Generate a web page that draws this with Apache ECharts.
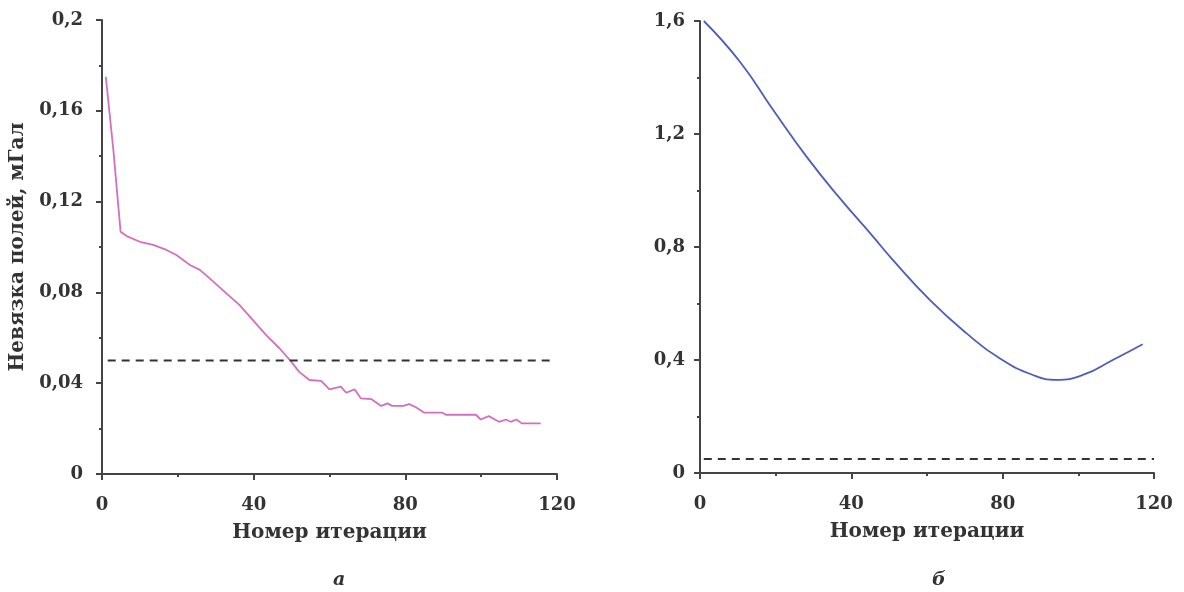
<!DOCTYPE html>
<html>
<head>
<meta charset="utf-8">
<script src="https://cdn.jsdelivr.net/npm/echarts@6/dist/echarts.min.js"></script>
<style>
  html, body { margin: 0; padding: 0; background: #fff; }
  #chart { width: 1184px; height: 592px; }
</style>
</head>
<body>
<div id="chart"></div>
<script>
// left panel (a): misfit vs iteration
var leftIter = [1, 3, 4.9, 6.5, 10, 13.5, 17, 19.6, 23.2, 25.8, 28.4, 32.8, 36.3, 39.8, 43.3, 46.8, 49.9, 52, 54.7, 57.8, 60, 63, 64.4, 66.6, 68.3, 71, 73.6, 75.3, 76.5, 79.5, 81, 82.8, 85, 89.8, 90.7, 98.6, 99.9, 102, 104.7, 106.5, 107.8, 109.3, 110.7, 115.7];
var leftVal = [0.175, 0.1427, 0.1067, 0.1048, 0.1023, 0.1009, 0.0987, 0.0965, 0.0921, 0.0899, 0.0862, 0.0796, 0.0744, 0.0678, 0.0612, 0.0554, 0.0495, 0.045, 0.0414, 0.041, 0.0373, 0.0385, 0.0358, 0.0373, 0.0333, 0.033, 0.030, 0.0311, 0.030, 0.030, 0.0308, 0.0294, 0.027, 0.027, 0.0261, 0.0261, 0.024, 0.0255, 0.023, 0.024, 0.023, 0.024, 0.0223, 0.0223];

// right panel (б)
var rightIter = [1, 10.6, 19.4, 28.2, 37, 45.8, 50.6, 60.8, 70.4, 79.2, 88, 94.2, 101.2, 109.1, 117];
var rightVal = [1.6, 1.455, 1.284, 1.119, 0.972, 0.836, 0.76, 0.612, 0.495, 0.406, 0.347, 0.330, 0.347, 0.400, 0.456];

var threshold = 0.05;

function pairs(xs, ys) {
    return xs.map(function (x, i) { return [x, ys[i]]; });
}

var font = 'DejaVu Serif';
var axisColor = '#444';
var textColor = '#333';

function makeX(idx) {
    return {
        type: 'value', gridIndex: idx, min: 0, max: 120, interval: 40,
        name: 'Номер итерации', nameLocation: 'middle', nameGap: 49,
        nameTextStyle: { fontFamily: font, fontWeight: 'bold', fontSize: 20, color: textColor },
        axisLine: { show: true, onZero: false, lineStyle: { color: axisColor, width: 2 } },
        axisTick: { show: true, length: 6, lineStyle: { color: axisColor, width: 2 } },
        minorTick: { show: true, splitNumber: 2, length: 3, lineStyle: { color: axisColor, width: 2 } },
        splitLine: { show: false },
        axisLabel: { margin: 22, fontFamily: font, fontWeight: 'bold', fontSize: 18, color: textColor }
    };
}

function makeY(idx, max, interval, name, margin) {
    return {
        type: 'value', gridIndex: idx, min: 0, max: max, interval: interval,
        name: name, nameLocation: 'middle', nameGap: 74,
        nameTextStyle: { fontFamily: font, fontWeight: 'bold', fontSize: 20, color: textColor },
        axisLine: { show: true, onZero: false, lineStyle: { color: axisColor, width: 2 } },
        axisTick: { show: true, length: 6, lineStyle: { color: axisColor, width: 2 } },
        minorTick: { show: true, splitNumber: 2, length: 3, lineStyle: { color: axisColor, width: 2 } },
        splitLine: { show: false },
        axisLabel: {
            margin: margin, fontFamily: font, fontWeight: 'bold', fontSize: 18, color: textColor,
            formatter: function (v) { return String(+v.toFixed(3)).replace('.', ','); }
        }
    };
}

var dashStyle = { color: '#333', width: 2, type: [8, 6] };
var subStyle = { fontFamily: font, fontStyle: 'italic', fontWeight: 'bold', fontSize: 19, color: textColor };

var chart = echarts.init(document.getElementById('chart'));
var option = {
    backgroundColor: '#fff',
    animation: false,
    title: [
        { text: 'а', left: 328, top: 566, textStyle: subStyle },
        { text: 'б', left: 927, top: 566, textStyle: subStyle }
    ],
    grid: [
        { left: 102, right: 627, top: 20, bottom: 118 },
        { left: 700, right: 30, top: 21, bottom: 119 }
    ],
    xAxis: [makeX(0), makeX(1)],
    yAxis: [makeY(0, 0.2, 0.04, 'Невязка полей, мГал', 19), makeY(1, 1.6, 0.4, '', 15)],
    series: [
        {
            type: 'line', xAxisIndex: 0, yAxisIndex: 0, showSymbol: false,
            data: pairs(leftIter, leftVal),
            lineStyle: { color: '#d46fbf', width: 1.8 }
        },
        {
            type: 'line', xAxisIndex: 0, yAxisIndex: 0, showSymbol: false,
            data: [[1.5, threshold], [119.5, threshold]],
            lineStyle: dashStyle
        },
        {
            type: 'line', xAxisIndex: 1, yAxisIndex: 1, showSymbol: false, smooth: true,
            data: pairs(rightIter, rightVal),
            lineStyle: { color: '#4b5fb8', width: 1.8 }
        },
        {
            type: 'line', xAxisIndex: 1, yAxisIndex: 1, showSymbol: false,
            data: [[1, threshold], [120, threshold]],
            lineStyle: dashStyle
        }
    ]
};
chart.setOption(option);
</script>
</body>
</html>
